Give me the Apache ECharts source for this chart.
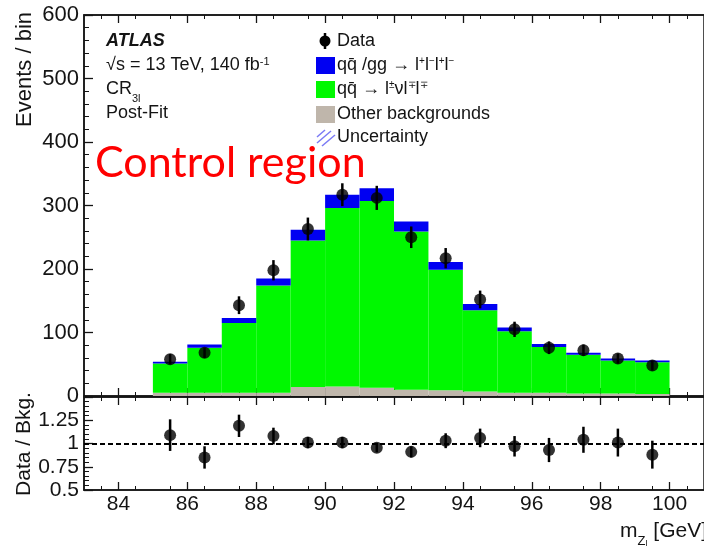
<!DOCTYPE html>
<html>
<head>
<meta charset="utf-8">
<script src="https://cdn.jsdelivr.net/npm/echarts@6/dist/echarts.min.js"></script>
<style>
  html, body { margin: 0; padding: 0; background: #fff; }
  #chart { width: 704px; height: 546px; }
</style>
</head>
<body>
<div id="chart"></div>
<script>
// m_Z bins (GeV): lower edges and upper edges
const binLow  = [85, 86, 87, 88, 89, 90, 91, 92, 93, 94, 95, 96, 97, 98, 99];
const binHigh = [86, 87, 88, 89, 90, 91, 92, 93, 94, 95, 96, 97, 98, 99, 100];

// Post-fit background yields per bin
const otherBkg = [5, 5, 5, 5, 14, 15, 13, 10, 9, 7, 5, 5, 4, 4, 3];
const wzYield  = [46, 71, 110, 169, 231, 281, 294, 249, 190, 128, 97, 72, 61, 52, 50];
const zzYield  = [3, 5, 8, 11, 17, 21, 20, 16, 12, 10, 6, 5, 3, 3, 3];

// Observed events and their statistical errors
const dataCounts = [58, 68, 143, 198, 263, 317, 312, 250, 217, 152, 105, 76, 72, 59, 48];
const dataErrors = [8, 8, 14, 16, 18, 18, 19, 17, 16, 14, 12, 10, 9, 8, 8];

// Data / background ratio and errors
const ratioValues = [1.09, 0.85, 1.19, 1.08, 1.01, 1.01, 0.955, 0.91, 1.03, 1.06, 0.97, 0.93, 1.04, 1.01, 0.88];
const ratioErrors = [0.17, 0.12, 0.12, 0.09, 0.06, 0.06, 0.05, 0.06, 0.08, 0.10, 0.11, 0.13, 0.14, 0.15, 0.15];

const mainTicks  = [0, 100, 200, 300, 400, 500, 600];
const ratioTicks = [0.5, 0.75, 1, 1.25];
const massTicks  = [84, 86, 88, 90, 92, 94, 96, 98, 100];

const COL_ZZ = '#0000f2';
const COL_WZ = '#00f800';
const COL_OTHER = '#bfb6ab';
const INK = '#141414';
const FONT = '"Liberation Sans", Arial, sans-serif';

// stacked layers: [lo, hi, base, top]
function layer(values, below) {
  return binLow.map((lo, i) => {
    let base = 0;
    below.forEach(arr => { base += arr[i]; });
    return [lo, binHigh[i], base, base + values[i]];
  });
}
function rectRenderer(color) {
  return function (params, api) {
    const p0 = api.coord([api.value(0), api.value(2)]);
    const p1 = api.coord([api.value(1), api.value(3)]);
    return {
      type: 'rect',
      shape: { x: p0[0], y: p1[1], width: p1[0] - p0[0], height: p0[1] - p1[1] },
      style: { fill: color }
    };
  };
}
function errRenderer(params, api) {
  const x = api.value(0), y = api.value(1), e = api.value(2);
  const a = api.coord([x, y - e]);
  const b = api.coord([x, y + e]);
  return {
    type: 'line',
    shape: { x1: a[0], y1: a[1], x2: b[0], y2: b[1] },
    style: { stroke: '#000', lineWidth: 2.5 }
  };
}
const centers = binLow.map((lo, i) => (lo + binHigh[i]) / 2);

const axisLineStyle = { show: true, lineStyle: { color: INK, width: 1.5 } };

function xAx(grid, pos, labels) {
  return {
    type: 'value', gridIndex: grid, position: pos, min: 83, max: 101, interval: 2,
    axisLine: axisLineStyle,
    axisTick: { show: true, inside: true, length: 8, lineStyle: { color: INK, width: 1.3 },
                customValues: massTicks },
    minorTick: { show: true, splitNumber: 4, length: 4, lineStyle: { color: INK, width: 1 } },
    axisLabel: labels ? { show: true, fontSize: 21, color: INK, fontFamily: FONT, margin: 4,
                          customValues: massTicks } : { show: false },
    splitLine: { show: false }
  };
}

const chart = echarts.init(document.getElementById('chart'), null, { renderer: 'canvas' });

const option = {
  animation: false,
  backgroundColor: '#fff',
  grid: [
    { left: 84, right: 0, top: 15, height: 381, show: true, borderColor: INK, borderWidth: 1.5, backgroundColor: 'transparent' },
    { left: 84, right: 0, top: 397, height: 93, show: true, borderColor: INK, borderWidth: 1.5, backgroundColor: 'transparent' }
  ],
  xAxis: [
    xAx(0, 'bottom', false),
    xAx(1, 'bottom', true),
    xAx(0, 'top', false),
    xAx(1, 'top', false)
  ],
  yAxis: [
    {
      type: 'value', gridIndex: 0, min: 0, max: 600, interval: 100,
      axisLine: axisLineStyle,
      axisTick: { show: true, inside: true, length: 9, lineStyle: { color: INK, width: 1.3 } },
      minorTick: { show: true, splitNumber: 5, length: 5, lineStyle: { color: INK, width: 1 } },
      axisLabel: { fontSize: 22, color: INK, fontFamily: FONT, margin: 5,
                   customValues: mainTicks },
      splitLine: { show: false }
    },
    {
      type: 'value', gridIndex: 1, min: 0.5, max: 1.5, interval: 0.25,
      axisLine: axisLineStyle,
      axisTick: { show: true, inside: true, length: 9, lineStyle: { color: INK, width: 1.3 } },
      minorTick: { show: true, splitNumber: 5, length: 5, lineStyle: { color: INK, width: 1 } },
      axisLabel: { fontSize: 21, color: INK, fontFamily: FONT, margin: 5,
                   customValues: ratioTicks,
                   formatter: v => (v > 1.4 ? '' : String(v)) },
      splitLine: { show: false }
    }
  ],
  series: [
    { type: 'custom', name: 'Other backgrounds', xAxisIndex: 0, yAxisIndex: 0, clip: true,
      renderItem: rectRenderer(COL_OTHER), data: layer(otherBkg, []) },
    { type: 'custom', name: 'WZ', xAxisIndex: 0, yAxisIndex: 0, clip: true,
      renderItem: rectRenderer(COL_WZ), data: layer(wzYield, [otherBkg]) },
    { type: 'custom', name: 'ZZ', xAxisIndex: 0, yAxisIndex: 0, clip: true,
      renderItem: rectRenderer(COL_ZZ), data: layer(zzYield, [otherBkg, wzYield]) },
    { type: 'custom', name: 'Data errors', xAxisIndex: 0, yAxisIndex: 0, clip: true,
      renderItem: errRenderer, data: centers.map((c, i) => [c, dataCounts[i], dataErrors[i]]) },
    { type: 'scatter', name: 'Data', xAxisIndex: 0, yAxisIndex: 0, symbol: 'circle', symbolSize: 12,
      itemStyle: { color: '#000' }, data: centers.map((c, i) => [c, dataCounts[i]]) },
    { type: 'custom', name: 'Ratio errors', xAxisIndex: 1, yAxisIndex: 1, clip: true,
      renderItem: errRenderer, data: centers.map((c, i) => [c, ratioValues[i], ratioErrors[i]]) },
    { type: 'scatter', name: 'Ratio', xAxisIndex: 1, yAxisIndex: 1, symbol: 'circle', symbolSize: 12,
      itemStyle: { color: '#000' }, data: centers.map((c, i) => [c, ratioValues[i]]),
      markLine: { silent: true, symbol: 'none', label: { show: false },
                  lineStyle: { color: '#000', type: [5, 3], width: 2 },
                  data: [{ yAxis: 1 }] } }
  ],
  graphic: [
    // axis titles
    { type: 'text', x: 25, y: 12, rotation: Math.PI / 2,
      style: { text: 'Events / bin', font: '22px ' + FONT, fill: INK, align: 'right', verticalAlign: 'middle' } },
    { type: 'text', x: 24, y: 444, rotation: Math.PI / 2,
      style: { text: 'Data / Bkg.', font: '21px ' + FONT, fill: INK, align: 'center', verticalAlign: 'middle' } },
    { type: 'text', x: 707, y: 531,
      style: { text: '{t|m}{s|Z}{ss|l}{t| [GeV]}', align: 'right', verticalAlign: 'middle',
        rich: {
          t: { font: '21px ' + FONT, fill: INK, verticalAlign: 'middle' },
          s: { font: '13px ' + FONT, fill: INK, verticalAlign: 'bottom', padding: [0, 0, -6, 0] },
          ss: { font: '9px ' + FONT, fill: INK, verticalAlign: 'bottom', padding: [0, 0, -8, 0] }
        } } },
    // ATLAS label block
    { type: 'text', x: 106, y: 41,
      style: { text: 'ATLAS', font: 'italic bold 18px ' + FONT, fill: INK, verticalAlign: 'middle' } },
    { type: 'text', x: 106, y: 65,
      style: { text: '{t|√s = 13 TeV, 140 fb}{p|-1}', verticalAlign: 'middle',
        rich: {
          t: { font: '18px ' + FONT, fill: INK, verticalAlign: 'middle' },
          p: { font: '11px ' + FONT, fill: INK, verticalAlign: 'top', padding: [0, 0, 6, 0] }
        } } },
    { type: 'text', x: 106, y: 89,
      style: { text: '{t|CR}{s|3l}', verticalAlign: 'middle',
        rich: {
          t: { font: '18px ' + FONT, fill: INK, verticalAlign: 'middle' },
          s: { font: '11px ' + FONT, fill: INK, verticalAlign: 'bottom', padding: [0, 0, -6, 0] }
        } } },
    { type: 'text', x: 106, y: 113,
      style: { text: 'Post-Fit', font: '18px ' + FONT, fill: INK, verticalAlign: 'middle' } },
    // legend
    { type: 'line', shape: { x1: 325, y1: 33, x2: 325, y2: 49 }, style: { stroke: '#000', lineWidth: 2.5 } },
    { type: 'circle', shape: { cx: 325, cy: 41, r: 5.5 }, style: { fill: '#000' } },
    { type: 'text', x: 337, y: 41,
      style: { text: 'Data', font: '18px ' + FONT, fill: INK, verticalAlign: 'middle' } },
    { type: 'rect', shape: { x: 316, y: 57, width: 19, height: 17 }, style: { fill: COL_ZZ } },
    { type: 'text', x: 337, y: 65,
      style: { text: '{t|qq̄ /gg → l}{p|+}{t|l}{p|−}{t|l}{p|+}{t|l}{p|−}', verticalAlign: 'middle',
        rich: {
          t: { font: '18px ' + FONT, fill: INK, verticalAlign: 'middle' },
          p: { font: '10px ' + FONT, fill: INK, verticalAlign: 'top', padding: [0, 0, 6, 0] }
        } } },
    { type: 'rect', shape: { x: 316, y: 81, width: 19, height: 17 }, style: { fill: COL_WZ } },
    { type: 'text', x: 337, y: 89,
      style: { text: '{t|qq̄ → l}{p|±}{t|νl}{p|∓}{t|l}{p|∓}', verticalAlign: 'middle',
        rich: {
          t: { font: '18px ' + FONT, fill: INK, verticalAlign: 'middle' },
          p: { font: '10px ' + FONT, fill: INK, verticalAlign: 'top', padding: [0, 0, 6, 0] }
        } } },
    { type: 'rect', shape: { x: 316, y: 106, width: 19, height: 17 }, style: { fill: COL_OTHER } },
    { type: 'text', x: 337, y: 114,
      style: { text: 'Other backgrounds', font: '18px ' + FONT, fill: INK, verticalAlign: 'middle' } },
    { type: 'line', shape: { x1: 317, y1: 137, x2: 325, y2: 130 }, style: { stroke: '#7a7af5', lineWidth: 1.5 } },
    { type: 'line', shape: { x1: 317, y1: 143, x2: 331, y2: 131 }, style: { stroke: '#7a7af5', lineWidth: 1.5 } },
    { type: 'line', shape: { x1: 322, y1: 146, x2: 335, y2: 135 }, style: { stroke: '#7a7af5', lineWidth: 1.5 } },
    { type: 'text', x: 337, y: 137,
      style: { text: 'Uncertainty', font: '18px ' + FONT, fill: INK, verticalAlign: 'middle' } },
    // region annotation
    { type: 'text', x: 95, y: 163, z: 100,
      style: { text: 'Control region', font: '43px Lato, "Open Sans", sans-serif', fill: '#ff0000', verticalAlign: 'middle' } }
  ]
};

chart.setOption(option);
</script>
</body>
</html>
